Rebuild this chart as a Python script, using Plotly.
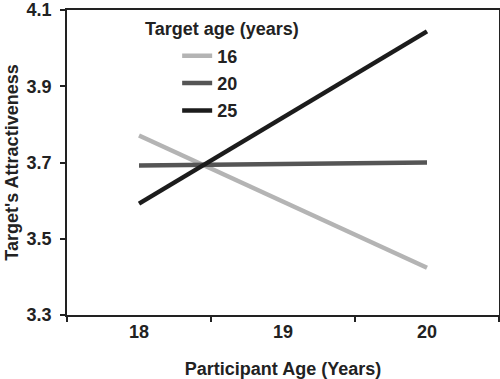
import plotly.graph_objects as go

participant_age = ["18", "19", "20"]
target_ages = ["16", "20", "25"]
values = {
    "16": [3.771, None, 3.424],
    "20": [3.692, None, 3.700],
    "25": [3.592, None, 4.044],
}
colors = {"16": "#b4b4b4", "20": "#555555", "25": "#1c1c1c"}

FONT = dict(family="Liberation Sans, Arial, sans-serif", size=18, color="#222222", weight="bold")

fig = go.Figure()
for i, t in enumerate(target_ages):
    fig.add_trace(go.Scatter(
        x=participant_age, y=values[t], name=t, mode="lines",
        connectgaps=True, legendgroup=t,
        line=dict(color=colors[t], width=4.5),
    ))

fig.update_layout(
    width=500, height=379,
    margin=dict(l=67, r=1, t=10, b=64),
    paper_bgcolor="white", plot_bgcolor="white",
    font=FONT,
    showlegend=True,
    legend=dict(x=0.255, y=0.91, xanchor="left", yanchor="top",
                bgcolor="rgba(0,0,0,0)", font=FONT,
                traceorder="grouped", tracegroupgap=1, itemwidth=30),
    annotations=[dict(text="Target age (years)", x=0.176, y=0.898, xref="paper", yref="paper",
                      xanchor="left", yanchor="bottom", showarrow=False, font=FONT)],
)
fig.update_xaxes(
    type="category", range=[-0.5, 2.5], tickson="boundaries",
    ticks="outside", ticklen=5, tickwidth=1.5, tickcolor="#222",
    showline=True, linecolor="#222", linewidth=1.5, mirror=True,
    showgrid=False, zeroline=False, automargin=False,
    title=dict(text="Participant Age (Years)", font=FONT, standoff=21),
)
fig.update_yaxes(
    range=[3.3, 4.1], tickvals=[3.3, 3.5, 3.7, 3.9, 4.1], ticktext=["3.3", "3.5", "3.7", "3.9", "4.1"],
    ticks="outside", ticklen=5, tickwidth=1.5, tickcolor="#222", ticklabelstandoff=5,
    ticklabeloverflow="allow",
    showline=True, linecolor="#222", linewidth=1.5, mirror=True,
    showgrid=False, zeroline=False, automargin=False,
    title=dict(text="Target's Attractiveness", font=FONT, standoff=3),
)
fig.write_html("out.html", config={"displayModeBar": False},
               post_script="document.body.style.margin='0';")
